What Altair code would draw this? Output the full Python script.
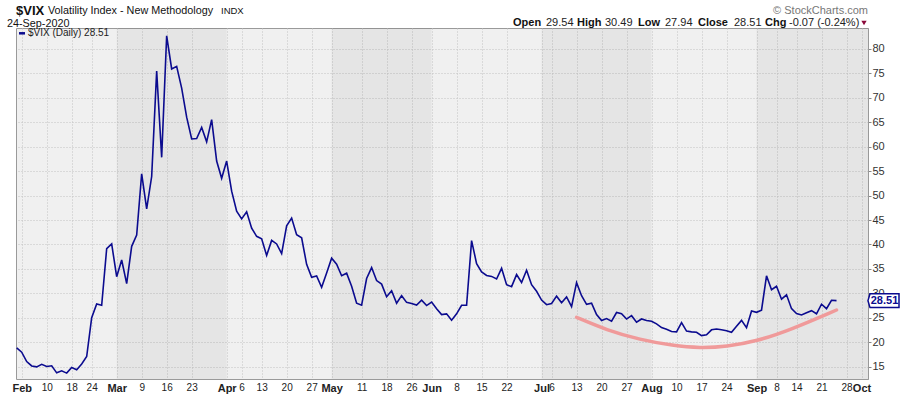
import altair as alt
import pandas as pd

# ---------------- data ----------------
# daily closes, one per trading day, Jan 31 2020 .. Sep 24 2020
vix_close = [
    18.84,
    # Feb
    17.97, 16.05, 15.15, 14.96, 15.47, 15.04, 15.18, 13.74, 14.15, 13.68,
    14.83, 14.38, 15.56, 17.08, 25.03, 27.85, 27.56, 39.16, 40.11,
    # Mar
    33.42, 36.82, 31.99, 39.62, 41.94, 54.46, 47.30, 53.90, 75.47, 57.83,
    82.69, 75.91, 76.45, 72.00, 66.04, 61.59, 61.67, 63.95, 61.00, 65.54,
    57.08, 53.54,
    # Apr
    57.06, 50.91, 46.80, 45.24, 46.70, 43.35, 41.67, 41.17, 37.76, 40.84,
    40.11, 38.15, 43.83, 45.41, 41.98, 41.38, 35.93, 33.29, 33.57, 31.23, 34.15,
    # May
    37.19, 35.97, 33.61, 34.12, 31.44, 27.98, 27.57, 33.04, 35.28, 32.61,
    31.89, 29.30, 30.53, 27.99, 29.53, 28.16, 27.91, 27.62, 28.59, 27.51,
    # Jun
    28.23, 26.84, 25.66, 25.81, 24.52, 25.81, 27.57, 27.57, 40.79, 36.09,
    34.40, 33.67, 33.47, 32.94, 35.12, 31.77, 31.37, 33.84, 32.22, 34.73,
    31.78, 30.43,
    # Jul
    28.62, 27.68, 27.94, 29.43, 28.08, 29.26, 27.29, 32.19, 29.52, 27.76,
    28.00, 25.68, 24.46, 24.84, 24.32, 26.08, 25.84, 24.74, 25.44, 24.10,
    24.76, 24.46,
    # Aug
    24.28, 23.76, 22.99, 22.65, 22.21, 22.13, 24.03, 22.28, 22.13, 22.05,
    21.35, 21.51, 22.54, 22.72, 22.54, 22.37, 22.03, 23.27, 24.47, 22.96, 26.41,
    # Sep
    26.12, 26.57, 33.60, 30.75, 31.46, 28.81, 29.71, 26.87, 25.85, 25.59,
    26.04, 26.46, 25.83, 27.78, 26.86, 28.58, 28.51,
]

# x-axis ticks (trading-day index) and their labels
tick_idx = [1, 6, 11, 15, 20, 25, 30, 35, 42, 45, 49, 54, 59, 63, 69, 74, 79,
            83, 88, 93, 98, 105, 107, 112, 117, 122, 127, 132, 137, 142, 148,
            152, 156, 161, 166, 169]
tick_text = ["Feb", "10", "18", "24", "Mar", "9", "16", "23", "Apr", "6", "13",
             "20", "27", "May", "11", "18", "26", "Jun", "8", "15", "22", "Jul",
             "6", "13", "20", "27", "Aug", "10", "17", "24", "Sep", "8", "14",
             "21", "28", "Oct"]
month_idx = [1, 20, 42, 63, 83, 105, 127, 148, 169]

# shaded months (Mar, May, Jul, Sep)
band_start = [20, 63, 105, 148]
band_end = [42, 83, 127, 170.3]

# hand-drawn rounding-bottom arc
arc_idx = [112, 118, 124.7, 131.3, 136.7, 142, 148, 154.7, 164]
arc_val = [25.1, 22.5, 20.5, 19.3, 18.8, 19.1, 20.2, 22.5, 26.6]

y_ticks = list(range(15, 85, 5))

ohlc = [("Open", "29.54"), ("High", "30.49"), ("Low", "27.94"),
        ("Close", "28.51"), ("Chg", "-0.07 (-0.24%)")]

# ---------------- layout ----------------
W, H = 852, 351
FONT = "Liberation Sans"
NAVY = "#0b0b8f"

df = pd.DataFrame({"idx": list(range(len(vix_close))), "close": vix_close})
last = df.iloc[[-1]].copy()
bands = pd.DataFrame({"start": band_start, "end": band_end})
arc = pd.DataFrame({"idx": arc_idx, "val": arc_val})

xs = alt.Scale(domain=[-0.14, 170.3], nice=False, zero=False)
ys = alt.Scale(domain=[12.48, 84.29], nice=False, zero=False)

lab_js = "[" + ",".join("'%s'" % t for t in tick_text) + "]"
idx_js = "[" + ",".join(str(i) for i in tick_idx) + "]"
mon_js = "[" + ",".join(str(i) for i in month_idx) + "]"
is_month = "indexof(%s, datum.value) >= 0" % mon_js

x_axis = alt.Axis(
    values=tick_idx,
    labelExpr="%s[indexof(%s, datum.value)]" % (lab_js, idx_js),
    grid=True, gridDash=[1, 2], gridColor="#c2c2c2",
    ticks=False, domain=False, labelPadding=3,
    labelFont=FONT,
    labelFontSize={"condition": {"test": is_month, "value": 11}, "value": 10},
    labelFontWeight={"condition": {"test": is_month, "value": "bold"}, "value": "normal"},
    labelColor="#222", labelOverlap=False, labelFlush=False, labelBound=False,
    title=None,
)
y_axis = alt.Axis(
    orient="right", values=y_ticks, grid=True, gridDash=[1, 2],
    gridColor="#c2c2c2", tickSize=3, tickColor="#888", domainColor="#999",
    domainDash=[1, 1], labelFont=FONT, labelFontSize=11, labelColor="#333",
    labelPadding=1, labelFlush=False, labelOverlap=False, labelBound=False,
    title=None,
)


def X(field):
    return alt.X(field, scale=xs, axis=x_axis, title=None)


def Y(field):
    return alt.Y(field, scale=ys, axis=y_axis, title=None)


band_layer = alt.Chart(bands).mark_rect(fill="black", opacity=0.045).encode(
    x=X("start:Q"), x2="end:Q", y=alt.value(0), y2=alt.value(H)
)

arc_layer = alt.Chart(arc).mark_line(
    color="#f09a9a", strokeWidth=3.5, interpolate="basis", strokeCap="round"
).encode(x=X("idx:Q"), y=Y("val:Q"))

line_layer = alt.Chart(df).mark_line(color=NAVY, strokeWidth=1.6).encode(
    x=X("idx:Q"), y=Y("close:Q")
)

box_path = "M -1.14 0 L -1 -0.48 L 1 -0.48 L 1 0.48 L -1 0.48 Z"
box_layer = alt.Chart(last).mark_point(
    shape=box_path, size=841, filled=True, fill="white", stroke=NAVY,
    strokeWidth=1.5, opacity=1, fillOpacity=1, strokeOpacity=1
).encode(x=alt.value(868.5), y=Y("close:Q"))
box_text = alt.Chart(last).mark_text(
    font=FONT, fontSize=11, fontWeight="bold", color=NAVY, align="center",
    baseline="middle"
).encode(x=alt.value(868.5), y=Y("close:Q"), text=alt.Text("close:Q", format=".2f"))

one = pd.DataFrame({"a": [0]})


def txt(text, x, y, size=11, weight="normal", color="#222", align="left"):
    return alt.Chart(one).mark_text(
        text=text, font=FONT, fontSize=size, fontWeight=weight, color=color,
        align=align, baseline="middle"
    ).encode(x=alt.value(x), y=alt.value(y))


texts = [
    txt("$VIX", 0, -17.3, 13, "bold", "#111"),
    txt("Volatility Index - New Methodology", 32, -16.6, 10.8, "normal", "#111"),
    txt("INDX", 205, -16.6, 9.5, "normal", "#111"),
    txt("24-Sep-2020", -9, -4.4, 10.8, "normal", "#111"),
    txt("\u00a9 StockCharts.com", 852, -16.8, 11, "normal", "#777", "right"),
    txt("$VIX (Daily) " + "%.2f" % vix_close[-1], 12, 5.3, 10, "normal", "#222"),
]
ohlc_x = [(497, 530), (561, 589), (622, 649), (682, 718), (749, 773)]
for (lab, val), (xl, xv) in zip(ohlc, ohlc_x):
    texts.append(txt(lab, xl, -5.3, 11, "bold", "#111"))
    texts.append(txt(val, xv, -5.3, 11, "normal", "#222"))

legend_dash = alt.Chart(one).mark_rule(color=NAVY, strokeWidth=2.5).encode(
    x=alt.value(3), x2=alt.value(9), y=alt.value(5.3)
)
tri = alt.Chart(one).mark_point(
    shape="triangle-down", size=28, filled=True, color="#8b0a3a", opacity=1
).encode(x=alt.value(848), y=alt.value(-5))

chart = alt.layer(
    band_layer, arc_layer, line_layer, box_layer, box_text, legend_dash, tri,
    *texts
).properties(
    width=W, height=H,
    padding={"left": 16, "top": 28, "right": 32, "bottom": 17},
    autosize=alt.AutoSizeParams(type="none"),
    background="white",
).configure_view(fill="#f0f0f0", stroke="#9a9a9a")

chart.save("out.html", embed_options={"renderer": "svg", "actions": False})
